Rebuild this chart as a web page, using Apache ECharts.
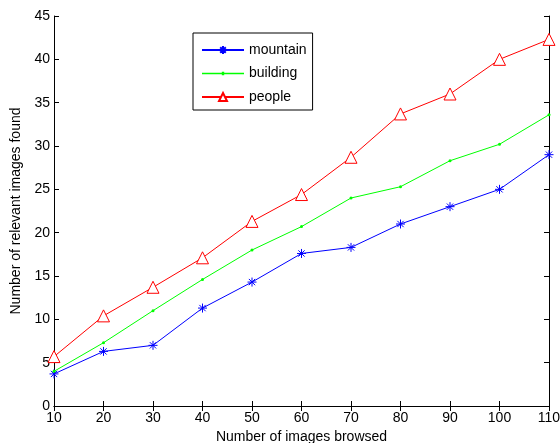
<!DOCTYPE html>
<html><head><meta charset="utf-8">
<script src="https://cdn.jsdelivr.net/npm/echarts@6/dist/echarts.min.js"></script>
<style>html,body{margin:0;padding:0;background:#fff}#c{width:560px;height:443px}</style>
</head><body><div id="c"></div>
<script>
var xValues = [10, 20, 30, 40, 50, 60, 70, 80, 90, 100, 110];
var mountain = [3.7, 6.3, 7.0, 11.3, 14.3, 17.6, 18.3, 21.0, 23.0, 25.0, 29.0];
var building = [4.0, 7.3, 11.0, 14.6, 18.0, 20.7, 24.0, 25.3, 28.3, 30.2, 33.6];
var people = [5.7, 10.4, 13.7, 17.1, 21.3, 24.4, 28.7, 33.7, 36.0, 40.0, 42.3];
var seriesNames = ['mountain', 'building', 'people'];

function pairs(v){ return xValues.map(function(x,i){ return [x, v[i]]; }); }
var font = 'Liberation Sans, Arial, sans-serif';
var asterisk = 'path://M10,0 L10,20 M0,10 L20,10 M3,3 L17,17 M3,17 L17,3';
var dotLineIcon = 'path://M0,1 L42,1 L42,2.6 L0,2.6 Z M19.8,0 L22.2,0 L22.2,3.6 L19.8,3.6 Z';

var chart = echarts.init(document.getElementById('c'));
chart.setOption({
  animation: false,
  backgroundColor: '#fff',
  grid: { left: 54, right: 11, top: 16, bottom: 37, containLabel: false, outerBoundsMode: 'none' },
  legend: {
    orient: 'vertical', left: 193, top: 33,
    data: [
      { name: seriesNames[0] },
      { name: seriesNames[1], icon: dotLineIcon },
      { name: seriesNames[2] }
    ],
    itemWidth: 42, itemHeight: 10, itemGap: 9.5,
    padding: [10, 6, 6, 8],
    borderColor: '#000', borderWidth: 1, backgroundColor: '#fff',
    textStyle: { fontFamily: font, fontSize: 14, color: '#000' }
  },
  xAxis: [{
    type: 'value', min: 10, max: 110, interval: 10,
    name: 'Number of images browsed', nameLocation: 'middle', nameGap: 23,
    nameTextStyle: { fontFamily: font, fontSize: 14, color: '#000' },
    axisLine: { lineStyle: { color: '#000', width: 1 } },
    axisTick: { inside: true, length: 5, lineStyle: { color: '#000' } },
    axisLabel: { fontFamily: font, fontSize: 14, color: '#000', margin: 5 },
    splitLine: { show: false }
  }, {
    type: 'value', min: 10, max: 110, interval: 10, position: 'top',
    axisLine: { lineStyle: { color: '#000', width: 1 } },
    axisTick: { inside: true, length: 5, lineStyle: { color: '#000' } },
    axisLabel: { show: false }, splitLine: { show: false }
  }],
  yAxis: [{
    type: 'value', min: 0, max: 45, interval: 5,
    name: 'Number of relevant images found', nameLocation: 'middle', nameGap: 30,
    nameTextStyle: { fontFamily: font, fontSize: 14, color: '#000' },
    axisLine: { show: true, lineStyle: { color: '#000', width: 1 } },
    axisTick: { show: true, inside: true, length: 5, lineStyle: { color: '#000' } },
    axisLabel: { fontFamily: font, fontSize: 14, color: '#000', margin: 4 },
    splitLine: { show: false }
  }, {
    type: 'value', min: 0, max: 45, interval: 5, position: 'right',
    axisLine: { show: true, lineStyle: { color: '#000', width: 1 } },
    axisTick: { show: true, inside: true, length: 5, lineStyle: { color: '#000' } },
    axisLabel: { show: false }, splitLine: { show: false }
  }],
  series: [{
    name: seriesNames[0], type: 'line', data: pairs(mountain),
    symbol: asterisk, symbolSize: 9,
    lineStyle: { color: '#0000ff', width: 1 },
    itemStyle: { color: 'none', borderColor: '#0000ff', borderWidth: 1 }
  }, {
    name: seriesNames[1], type: 'line', data: pairs(building),
    symbol: 'circle', symbolSize: 3,
    lineStyle: { color: '#00ff00', width: 1 },
    itemStyle: { color: '#00ff00', borderWidth: 0 }
  }, {
    name: seriesNames[2], type: 'line', data: pairs(people),
    symbol: 'triangle', symbolSize: 12,
    lineStyle: { color: '#ff0000', width: 1 },
    itemStyle: { color: '#fff', borderColor: '#ff0000', borderWidth: 1 }
  }]
});
</script></body></html>
